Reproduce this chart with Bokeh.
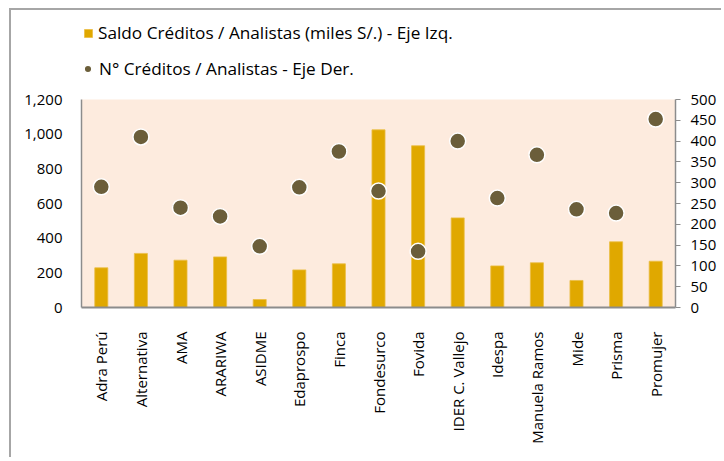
from bokeh.plotting import figure
from bokeh.models import (FactorRange, Range1d, LinearAxis, Legend, LegendItem, BoxAnnotation,
                          SingleIntervalTicker, NumeralTickFormatter, ColumnDataSource)
from bokeh.embed import file_html
from bokeh.resources import INLINE
import math

categories = ["Adra Perú", "Alternativa", "AMA", "ARARIWA", "ASIDME", "Edaprospo",
              "Finca", "Fondesurco", "Fovida", "IDER C. Vallejo", "Idespa",
              "Manuela Ramos", "Mide", "Prisma", "Promujer"]
saldo = [229, 312, 273, 292, 46, 217, 252, 1025, 933, 517, 240, 258, 156, 379, 267]
n_creditos = [290, 410, 240, 219, 147, 289, 375, 280, 135, 400, 263, 367, 236, 227, 453]

left_max, left_step = 1200, 200
right_max, right_step = 500, 50

FONT = "Open Sans"
src = ColumnDataSource(dict(cat=categories, saldo=saldo, n=n_creditos))

# frame extends above the axis maximum to host the legend
TOP_BORDER = 5
AXIS_TOP = 89      # pixel (figure coords) where the axis maximum sits
FRAME_BOTTOM = 297
extra = (AXIS_TOP - TOP_BORDER) / (FRAME_BOTTOM - AXIS_TOP)

p = figure(x_range=FactorRange(*categories, range_padding=0),
           y_range=Range1d(0, left_max * (1 + extra)),
           width=712, height=449,
           min_border_left=70, min_border_right=48, min_border_top=TOP_BORDER,
           min_border_bottom=449 - FRAME_BOTTOM,
           output_backend="svg", toolbar_location=None)
p.styles = {"margin-left": "9px", "margin-top": "8px",
            "border-left": "2px solid #a6a6a6", "border-top": "2px solid #a6a6a6"}
p.extra_y_ranges = {"right": Range1d(0, right_max * (1 + extra))}

p.background_fill_color = "white"
p.border_fill_color = "white"
p.outline_line_color = None
p.xgrid.grid_line_color = None
p.ygrid.grid_line_color = None

p.add_layout(BoxAnnotation(bottom=0, top=left_max, fill_color="#FDEBDE", fill_alpha=1,
                           line_color=None, level="underlay"))

bars = p.vbar(x="cat", top="saldo", width=0.33, source=src,
              fill_color="#E0A800", line_color="#EBBE45", line_width=0.8)
dots = p.scatter(x="cat", y="n", size=16, source=src, y_range_name="right",
                 fill_color="#6B5E3A", line_color="white", line_width=1.5)

# left axis
ya = p.yaxis[0]
ya.bounds = (0, left_max)
ya.ticker = SingleIntervalTicker(interval=left_step)
ya.formatter = NumeralTickFormatter(format="0,0")
ya.major_tick_line_color = None
ya.minor_tick_line_color = None
ya.axis_line_color = "#8c8c8c"
ya.axis_line_width = 1.5
ya.major_label_text_font = FONT
ya.major_label_text_font_size = "15px"
ya.major_label_text_color = "black"
ya.major_label_standoff = 13

# right axis
ra = LinearAxis(y_range_name="right", bounds=(0, right_max),
                ticker=SingleIntervalTicker(interval=right_step))
ra.major_tick_in = 0
ra.major_tick_out = 5
ra.major_tick_line_color = "#8c8c8c"
ra.minor_tick_line_color = None
ra.axis_line_color = "#8c8c8c"
ra.axis_line_width = 1.5
ra.major_label_text_font = FONT
ra.major_label_text_font_size = "15px"
ra.major_label_text_color = "black"
ra.major_label_standoff = 10
p.add_layout(ra, "right")

# bottom axis
xa = p.xaxis[0]
xa.major_label_orientation = math.pi / 2
xa.major_tick_line_color = None
xa.minor_tick_line_color = None
xa.axis_line_color = "#8c8c8c"
xa.axis_line_width = 2
xa.major_label_text_font = FONT
xa.major_label_text_font_size = "15px"
xa.major_label_text_color = "black"
xa.major_label_standoff = 18


def style_legend(lg, glyph, standoff):
    lg.padding = 0
    lg.margin = 0
    lg.border_line_color = None
    lg.background_fill_alpha = 0
    lg.glyph_width = glyph
    lg.glyph_height = glyph
    lg.label_height = 20
    lg.label_standoff = standoff
    lg.label_text_font = FONT
    lg.label_text_font_size = "17.2px"
    lg.label_text_color = "black"


legend1 = Legend(items=[LegendItem(label="Saldo Créditos / Analistas (miles S/.) - Eje Izq.",
                                   renderers=[bars])],
                 location=(2, FRAME_BOTTOM - 34))
style_legend(legend1, 10, 5)
legend2 = Legend(items=[LegendItem(label="N° Créditos / Analistas - Eje Der.", renderers=[dots])],
                 location=(-3, FRAME_BOTTOM - 70))
style_legend(legend2, 19, 2)
p.add_layout(legend1, "center")
p.add_layout(legend2, "center")

open("out.html", "w").write(file_html(p, INLINE))
